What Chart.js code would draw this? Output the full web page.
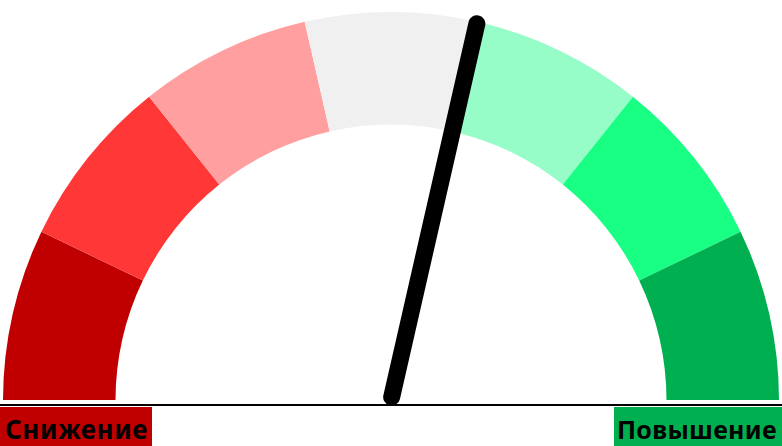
<!DOCTYPE html>
<html>
<head>
<meta charset="utf-8">
<script src="https://cdn.jsdelivr.net/npm/chart.js@4"></script>
<style>
  html, body { margin: 0; padding: 0; background: #fff; }
  #wrap { position: relative; width: 782px; height: 446px; overflow: hidden; }
  #gauge { position: absolute; left: 0; top: 0; }
  .baseline { position: absolute; left: 0; top: 404px; width: 782px; height: 2px; background: #000; }
  .tag { position: absolute; top: 407px; height: 39px; line-height: 45px; font-family: "Noto Sans", sans-serif; font-weight: bold; color: #000; white-space: nowrap; }
  #tagDown { left: 0; width: 152px; background: #c00000; padding-left: 5px; box-sizing: border-box; font-size: 26px; letter-spacing: 0.6px; }
  #tagUp { left: 614px; width: 168px; background: #00b050; padding-left: 3px; box-sizing: border-box; font-size: 25px; letter-spacing: 0.3px; }
</style>
</head>
<body>
<div id="wrap">
  <canvas id="gauge" width="782" height="405"></canvas>
  <div class="baseline"></div>
  <div class="tag" id="tagDown"></div>
  <div class="tag" id="tagUp"></div>
</div>
<script>
// зоны шкалы (слева направо)
const zones = ['z1', 'z2', 'z3', 'z4', 'z5', 'z6', 'z7'];
const zoneSizes = [1, 1, 1, 1, 1, 1, 1];
const zoneColors = ['#c00000', '#ff3737', '#ff9f9f', '#f0f0f0', '#97fdc8', '#19ff84', '#00b050'];
// положение стрелки в тех же единицах, что и зоны
const needleValue = 4;
const endLabels = ['Снижение', 'Повышение'];

document.getElementById('tagDown').textContent = endLabels[0];
document.getElementById('tagUp').textContent = endLabels[1];

// стрелка рисуется поверх дуги
const needlePlugin = {
  id: 'needle',
  afterDatasetsDraw(chart) {
    const arc = chart.getDatasetMeta(0).data[0];
    if (!arc) return;
    const total = zoneSizes.reduce((a, b) => a + b, 0);
    const angle = Math.PI + (needleValue / total) * Math.PI;
    const cx = arc.x, cy = arc.y, r = arc.outerRadius;
    const ctx = chart.ctx;
    ctx.save();
    ctx.strokeStyle = '#000';
    ctx.lineWidth = 17;
    ctx.lineCap = 'round';
    ctx.beginPath();
    ctx.moveTo(cx + Math.cos(angle) * 3, cy + Math.sin(angle) * 3);
    ctx.lineTo(cx + Math.cos(angle) * (r - 2), cy + Math.sin(angle) * (r - 2));
    ctx.stroke();
    ctx.restore();
  }
};

new Chart(document.getElementById('gauge'), {
  type: 'doughnut',
  data: {
    labels: zones,
    datasets: [{
      data: zoneSizes,
      backgroundColor: zoneColors,
      borderWidth: 0
    }]
  },
  options: {
    responsive: false,
    animation: false,
    rotation: -90,
    circumference: 180,
    cutout: '71%',
    layout: { padding: { left: 3, right: 3, top: 12, bottom: 5 } },
    plugins: {
      legend: { display: false },
      tooltip: { enabled: false }
    }
  },
  plugins: [needlePlugin]
});
</script>
</body>
</html>
